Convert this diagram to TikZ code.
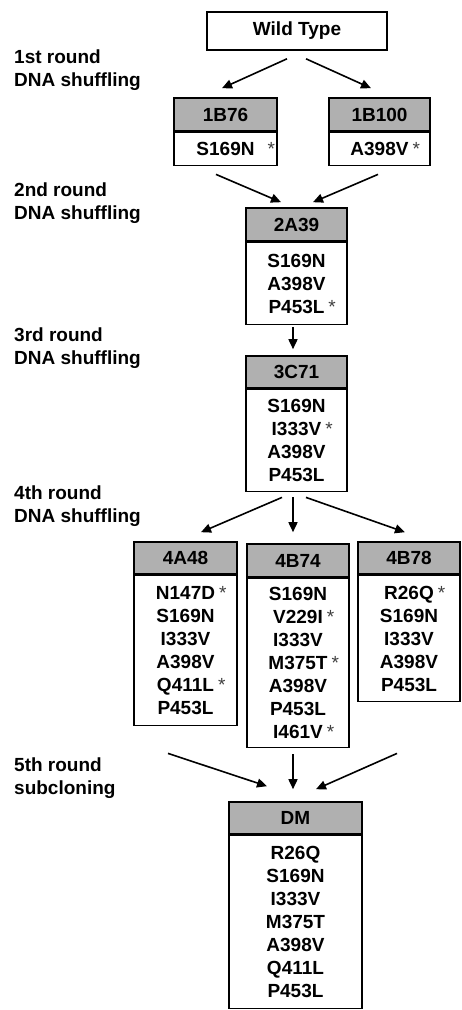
\documentclass[tikz,border=0pt]{standalone}
\usepackage{fontspec}
\setmainfont{Liberation Sans}
\usetikzlibrary{arrows.meta}
\newcommand\mk[1][4pt]{\rlap{\kern#1\textcolor{black!75}{\mdseries*}}}
\tikzset{
  hdr/.style={draw,line width=1.6pt,fill=black!31,minimum height=33pt,inner sep=0pt},
  mbox/.style={draw,line width=1.6pt,fill=white,align=center,inner sep=0pt,anchor=north},
  lbl/.style={align=left,anchor=west,inner sep=0pt},
  arr/.style={-{Triangle[length=10pt,width=9pt]},line width=1.6pt},
  every node/.style={font=\fontsize{19}{23}\selectfont\bfseries}
}
\begin{document}
\begin{tikzpicture}[x=1pt,y=-1pt]
\useasboundingbox (0,0) rectangle (461,1010);
% round labels
\node[lbl] (r1) at (14,70) {1st round\\DNA shuffling};
\node[lbl] (r2) at (14,203) {2nd round\\DNA shuffling};
\node[lbl] (r3) at (14,348) {3rd round\\DNA shuffling};
\node[lbl] (r4) at (14,506) {4th round\\DNA shuffling};
\node[lbl] (r5) at (14,778) {5th round\\subcloning};
% clones
\node[draw,line width=1.6pt,minimum width=180pt,minimum height=38pt] (wt) at (297,31) {Wild Type};
\node[hdr,minimum width=103pt] (b76) at (225.5,114.5) {1B76};
\node[mbox,minimum width=103pt,minimum height=33pt] (b76m) at (b76.south) {S169N\mk[13pt]};
\node[hdr,minimum width=101pt] (b100) at (379.5,114.5) {1B100};
\node[mbox,minimum width=101pt,minimum height=33pt] (b100m) at (b100.south) {A398V\mk};
\node[hdr,minimum width=101pt] (a39) at (296.5,224.5) {2A39};
\node[mbox,minimum width=101pt,minimum height=82pt] (a39m) at (a39.south) {S169N\\A398V\\P453L\mk};
\node[hdr,minimum width=101pt,minimum height=32pt] (c71) at (296.5,372) {3C71};
\node[mbox,minimum width=101pt,minimum height=102pt] (c71m) at (c71.south) {S169N\\I333V\mk\\A398V\\P453L};
\node[hdr,minimum width=103pt,minimum height=32pt] (a48) at (185.5,558) {4A48};
\node[mbox,minimum width=103pt,minimum height=150pt] (a48m) at (a48.south) {N147D\mk\\S169N\\I333V\\A398V\\Q411L\mk\\P453L};
\node[hdr,minimum width=102pt] (b74) at (298,560.5) {4B74};
\node[mbox,minimum width=102pt,minimum height=169pt] (b74m) at (b74.south) {S169N\\V229I\mk\\I333V\\M375T\mk\\A398V\\P453L\\I461V\mk};
\node[hdr,minimum width=102pt,minimum height=32pt] (b78) at (409,558) {4B78};
\node[mbox,minimum width=102pt,minimum height=126pt] (b78m) at (b78.south) {R26Q\mk\\S169N\\I333V\\A398V\\P453L};
\node[hdr,minimum width=133pt,minimum height=32pt] (dm) at (295.5,818) {DM};
\node[mbox,minimum width=133pt,minimum height=173pt] (dmm) at (dm.south) {R26Q\\S169N\\I333V\\M375T\\A398V\\Q411L\\P453L};
% arrows
\draw[arr] ([xshift=-10pt,yshift=-8pt]wt.south) -- ([xshift=-3.5pt,yshift=9pt]b76.north);
\draw[arr] ([xshift=9pt,yshift=-8pt]wt.south) -- ([xshift=-8.5pt,yshift=9pt]b100.north);
\draw[arr] ([xshift=-9.5pt,yshift=-8pt]b76m.south) -- ([xshift=-15.5pt,yshift=5pt]a39.north);
\draw[arr] ([xshift=-1.5pt,yshift=-8pt]b100m.south) -- ([xshift=16.5pt,yshift=5pt]a39.north);
\draw[arr] ([xshift=-3.5pt,yshift=-2pt]a39m.south) -- ([xshift=-3.5pt,yshift=6pt]c71.north);
\draw[arr] ([xshift=-14.5pt,yshift=-5pt]c71m.south) -- ([xshift=15.5pt,yshift=9pt]a48.north);
\draw[arr] ([xshift=-3.5pt,yshift=-5pt]c71m.south) -- ([xshift=-5pt,yshift=11pt]b74.north);
\draw[arr] ([xshift=9.5pt,yshift=-5pt]c71m.south) -- ([xshift=-4pt,yshift=9pt]b78.north);
\draw[arr] ([xshift=-17.5pt,yshift=-27pt]a48m.south) -- ([xshift=-28.5pt,yshift=15pt]dm.north);
\draw[arr] ([xshift=-5pt,yshift=-6pt]b74m.south) -- ([xshift=-2.5pt,yshift=12pt]dm.north);
\draw[arr] ([xshift=-12pt,yshift=-51pt]b78m.south) -- ([xshift=20.5pt,yshift=12pt]dm.north);
\end{tikzpicture}
\end{document}
